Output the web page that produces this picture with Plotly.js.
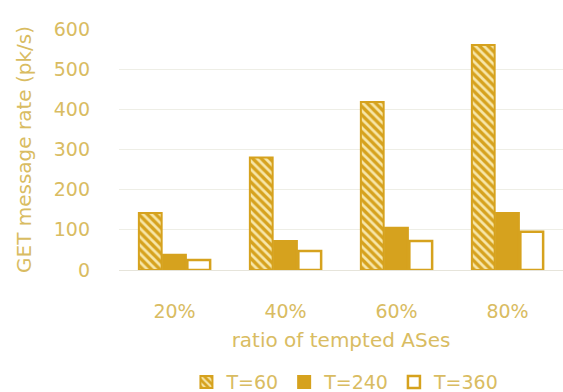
<!DOCTYPE html>
<html>
<head>
<meta charset="utf-8">
<script src="https://cdn.plot.ly/plotly-3.0.1.min.js"></script>
<style>html,body{margin:0;padding:0;background:#fff;}#chart{width:563px;height:392px;}</style>
</head>
<body>
<div id="chart"></div>
<script>
const categories = ["20%", "40%", "60%", "80%"];
const seriesNames = ["T=60", "T=240", "T=360"];
const t60 = [142, 280, 418, 560];
const t240 = [38, 72, 105, 142];
const t360 = [25, 47, 72, 95];
const yTicks = [0, 100, 200, 300, 400, 500, 600];

const gold = "#D6A21E";
const textGold = "#D9BC62";
const font = "'DejaVu Sans', sans-serif";

const traces = [
  {
    type: "bar", name: seriesNames[0], x: categories, y: t60,
    marker: {
      color: gold,
      line: {color: gold, width: 2},
      pattern: {shape: "\\", fgcolor: "#F7E6A8", bgcolor: gold, size: 6, solidity: 0.45}
    }
  },
  {
    type: "bar", name: seriesNames[1], x: categories, y: t240,
    marker: {color: gold, line: {color: gold, width: 2}}
  },
  {
    type: "bar", name: seriesNames[2], x: categories, y: t360,
    marker: {color: "#FFFFFF", line: {color: gold, width: 2.5}}
  }
];

const layout = {
  width: 563, height: 392,
  margin: {l: 119, r: 0, t: 29, b: 122, autoexpand: false},
  paper_bgcolor: "#fff", plot_bgcolor: "#fff",
  font: {family: font, color: textGold, size: 18},
  barmode: "group",
  bargap: 0.345,
  bargroupgap: 0.06,
  showlegend: true,
  legend: {
    orientation: "h", x: 0.51, xanchor: "center", y: 0.025, yref: "container", yanchor: "middle",
    font: {family: font, size: 19, color: textGold},
    itemwidth: 30, traceorder: "normal"
  },
  xaxis: {
    type: "category",
    tickvals: categories, ticktext: categories,
    showgrid: false, zeroline: false, showline: false, ticks: "",
    ticklabelstandoff: 28,
    tickfont: {family: font, size: 19, color: textGold},
    title: {text: "ratio of tempted ASes", font: {family: font, size: 20, color: textGold}, standoff: 11}
  },
  yaxis: {
    range: [0, 600],
    tickvals: yTicks, ticktext: yTicks.map(String),
    showgrid: true, gridcolor: "#EEEEE6", gridwidth: 1,
    zeroline: true, zerolinecolor: "#E6E4DA", zerolinewidth: 1,
    showline: false, ticks: "",
    ticklabelstandoff: 28,
    tickfont: {family: font, size: 19, color: textGold},
    title: {text: "GET message rate (pk/s)", font: {family: font, size: 20, color: textGold}, standoff: 16}
  }
};

Plotly.newPlot("chart", traces, layout, {displayModeBar: false, staticPlot: true});
</script>
</body>
</html>
